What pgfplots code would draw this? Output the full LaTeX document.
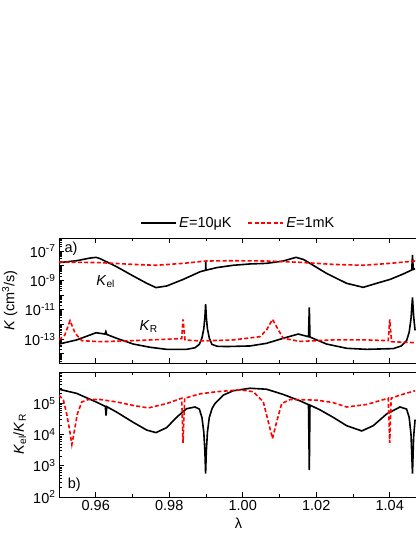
\documentclass[border=0pt]{standalone}
\usepackage{fontspec}
\setmainfont{Liberation Sans}
\usepackage{pgfplots}
\pgfplotsset{compat=1.18}
\newcommand{\fs}{\fontsize{14.5}{17}\selectfont}
\pgfplotsset{
  panel/.style={
    scale only axis, width=359pt, height=125pt,
    xmin=0.95, xmax=1.0477,
    xtick={0.96,0.98,1.00,1.02,1.04},
    minor xtick={0.95,0.97,0.99,1.01,1.03},
    ytick pos=left, xtick pos=both,
    tick align=inside,
    major tick length=5pt, minor tick length=3pt,
    every tick/.append style={black, line width=0.8pt},
    axis line style={line width=0.9pt},
    tick label style={font=\fs},
    label style={font=\fs},
    /pgf/number format/assume math mode=true,
  },
  kel/.style={black, line width=1.6pt},
  kr/.style={red, line width=1.6pt, dash pattern=on 4pt off 2.3pt},
}
\begin{document}
\begin{tikzpicture}
\useasboundingbox (0pt,0pt) rectangle (415pt,537pt);

% a) rate coefficients
\begin{axis}[ymode=log, panel,
  at={(59pt,174pt)}, anchor=south west,
  ymin=2.4e-15, ymax=7.7e-7,
  ytick={1e-14,1e-13,1e-12,1e-11,1e-10,1e-9,1e-8,1e-7},
  yticklabels={,10\textsuperscript{-13},,10\textsuperscript{-11},,10\textsuperscript{-9},,10\textsuperscript{-7}},
  minor ytick={3e-15,4e-15,5e-15,6e-15,7e-15,8e-15,9e-15,
    2e-14,3e-14,4e-14,5e-14,6e-14,7e-14,8e-14,9e-14,
    2e-13,3e-13,4e-13,5e-13,6e-13,7e-13,8e-13,9e-13,
    2e-12,3e-12,4e-12,5e-12,6e-12,7e-12,8e-12,9e-12,
    2e-11,3e-11,4e-11,5e-11,6e-11,7e-11,8e-11,9e-11,
    2e-10,3e-10,4e-10,5e-10,6e-10,7e-10,8e-10,9e-10,
    2e-9,3e-9,4e-9,5e-9,6e-9,7e-9,8e-9,9e-9,
    2e-8,3e-8,4e-8,5e-8,6e-8,7e-8,8e-8,9e-8,
    2e-7,3e-7,4e-7,5e-7,6e-7,7e-7},
  xticklabels={},
  ylabel={\textit{K} (cm\textsuperscript{3}/s)},
  legend style={at={(0.5,1)}, anchor=south, yshift=5pt, draw=none, fill=none,
    font=\fs, legend columns=2,
    /tikz/every even column/.append style={column sep=14pt}},
  legend image code/.code={\draw[#1] (0pt,0pt) -- (35pt,0pt);},
]
% K_el, E=10 muK
\addplot[kel] coordinates {
  (0.9500,1.62e-8) (0.9548,2.19e-8) (0.9584,3.31e-8) (0.9601,3.72e-8)
  (0.9612,3.02e-8) (0.9657,8.51e-9) (0.9702,2.0e-9) (0.9739,6.31e-10)
  (0.9764,3.24e-10) (0.9793,4.17e-10) (0.9838,1.17e-9) (0.9884,3.89e-9)
  (0.9899,4.9e-9) (0.98995,1.86e-8) (0.9900,4.95e-9) (0.9929,7.41e-9)
  (0.9974,1.07e-8) (1.0020,1.32e-8) (1.0065,1.45e-8) (1.0110,2.09e-8)
  (1.0145,3.72e-8) (1.0165,2.69e-8) (1.0183,1.45e-8) (1.0228,3.02e-9)
  (1.0283,6.31e-10) (1.0328,3.39e-10) (1.0364,6.31e-10) (1.0401,1.17e-9)
  (1.0437,2.75e-9) (1.0460,5.13e-9) (1.0462,5.37e-8) (1.0464,5.6e-9)
  (1.0469,6.3e-9)
};
\addlegendentry{\textit{E}=10μK}
% K_el, E=1 mK
\addplot[kr] coordinates {
  (0.9500,1.78e-8) (0.9612,1.62e-8) (0.9702,1.23e-8) (0.9764,1.07e-8)
  (0.9838,1.45e-8) (0.9900,2.09e-8) (0.9974,2.19e-8) (1.0065,2.09e-8)
  (1.0156,1.70e-8) (1.0246,1.23e-8) (1.0328,1.07e-8) (1.0401,1.45e-8)
  (1.0469,2.09e-8)
};
\addlegendentry{\textit{E}=1mK}
% K_R, E=10 muK
\addplot[kel, forget plot] coordinates {
  (0.9500,4.68e-14) (0.9548,8.91e-14) (0.9601,2.75e-13) (0.9625,2.24e-13)
  (0.96275,3.3e-13) (0.9630,2.1e-13) (0.9657,1.15e-13) (0.9702,4.68e-14)
  (0.9748,2.82e-14) (0.9793,2.04e-14) (0.9847,2.04e-14) (0.9870,2.6e-14)
  (0.9882,4.5e-14) (0.9889,1.2e-13) (0.9894,5e-13) (0.9897,3e-12)
  (0.9899,2.45e-11) (0.9901,3e-12) (0.9904,5e-13) (0.9909,1.2e-13)
  (0.9916,4.5e-14) (0.9930,3.3e-14) (0.9956,3.16e-14) (1.0020,3.47e-14)
  (1.0065,5.25e-14) (1.0110,1.15e-13) (1.0151,2.24e-13) (1.0179,1.48e-13)
  (1.01812,1.48e-11) (1.0183,1.4e-13) (1.0228,4.68e-14) (1.0283,2.4e-14)
  (1.0337,2.04e-14) (1.0410,2.29e-14) (1.0432,3.5e-14) (1.0446,8e-14)
  (1.0453,3e-13) (1.0458,2.5e-12) (1.0462,7.08e-11) (1.0465,4e-12)
  (1.0469,4e-13)
};
% K_R, E=1 mK
\addplot[kr, forget plot] coordinates {
  (0.9500,8.91e-14) (0.9516,1.95e-13) (0.9530,1.82e-12) (0.9544,2.51e-13)
  (0.9562,7.94e-14) (0.9612,6.76e-14) (0.9702,7.94e-14) (0.9834,1.1e-13)
  (0.98375,2.24e-12) (0.9843,8.91e-14) (0.9884,7.59e-14) (0.9974,8.91e-14)
  (1.0047,1.48e-13) (1.0065,4.27e-13) (1.0081,2.24e-12) (1.0097,4.27e-13)
  (1.0110,1.15e-13) (1.0156,7.08e-14) (1.0246,8.91e-14) (1.0337,8.91e-14)
  (1.0396,7.94e-14) (1.0400,2.24e-12) (1.0405,6.76e-14) (1.0469,5.75e-14)
};
\node[font=\fs, anchor=west] at (rel axis cs:0.006,0.91) {a)};
\node[font=\fs] at (rel axis cs:0.13,0.65) {\textit{K}\textsubscript{el}};
\node[font=\fs] at (rel axis cs:0.25,0.29) {\textit{K}\textsubscript{R}};
\end{axis}

% b) ratio
\begin{axis}[ymode=log, panel,
  at={(59pt,40pt)}, anchor=south west,
  ymin=1e2, ymax=1e6,
  ytick={1e2,1e3,1e4,1e5},
  yticklabels={10\textsuperscript{2},10\textsuperscript{3},10\textsuperscript{4},10\textsuperscript{5}},
  minor ytick={2e2,3e2,4e2,5e2,6e2,7e2,8e2,9e2,
    2e3,3e3,4e3,5e3,6e3,7e3,8e3,9e3,
    2e4,3e4,4e4,5e4,6e4,7e4,8e4,9e4,
    2e5,3e5,4e5,5e5,6e5,7e5,8e5,9e5},
  xticklabels={0.96,0.98,1.00,1.02,1.04},
  xlabel={λ},
  ylabel={\textit{K}\textsubscript{el}/\textit{K}\textsubscript{R}},
]
\addplot[kel] coordinates {
  (0.9500,2.81e5) (0.9548,2.07e5) (0.9601,1.10e5) (0.9626,7.94e4)
  (0.9628,4.07e4) (0.9630,7.76e4) (0.9657,5.2e4) (0.9702,2.45e4)
  (0.9739,1.38e4) (0.9764,1.15e4) (0.9793,1.66e4) (0.9820,3.55e4)
  (0.9847,6.68e4) (0.9870,7.59e4) (0.9882,6.5e4) (0.9889,3.5e4)
  (0.9894,1.2e4) (0.9897,3e3) (0.9899,562) (0.9901,3e3)
  (0.9904,1.2e4) (0.9909,3.5e4) (0.9917,7e4)
  (0.99245,9.77e4) (0.9947,1.82e5) (0.9974,2.51e5) (1.0020,3.02e5)
  (1.0065,2.81e5) (1.0110,1.92e5) (1.0156,1.19e5) (1.0179,9.04e4)
  (1.01812,721) (1.0183,8.71e4) (1.0210,6.17e4) (1.0246,3.55e4)
  (1.0283,1.91e4) (1.0324,1.30e4) (1.0355,1.91e4) (1.0392,4.57e4)
  (1.0428,7.59e4) (1.0446,6.5e4) (1.0453,3.5e4) (1.0458,1e4)
  (1.0462,562) (1.0465,8e3) (1.0469,3e4)
};
\addplot[kr] coordinates {
  (0.9500,1.82e5) (0.9512,1.26e5) (0.9521,4.57e4) (0.9530,1.15e4)
  (0.9535,4.79e3) (0.9541,1.15e4) (0.9550,4.57e4) (0.9562,1.10e5)
  (0.9580,1.32e5) (0.9612,1.32e5) (0.9657,1.10e5) (0.9702,8.51e4)
  (0.9743,7.08e4) (0.9793,9.77e4) (0.9834,1.45e5) (0.98375,5.37e3)
  (0.9842,1.45e5) (0.9884,2.0e5) (0.9929,2.34e5) (0.9993,2.69e5)
  (1.0029,2.34e5) (1.0056,1.10e5) (1.0070,2.45e4) (1.0081,7.41e3)
  (1.0092,2.45e4) (1.0106,9.77e4) (1.0129,1.32e5) (1.0201,1.26e5)
  (1.0246,1.05e5) (1.0283,7.59e4) (1.0337,9.12e4) (1.0396,1.45e5)
  (1.0400,5.37e3) (1.0404,1.45e5) (1.0428,1.82e5) (1.0469,2.51e5)
};
\node[font=\fs, anchor=west] at (rel axis cs:0.015,0.1) {b)};
\end{axis}
\end{tikzpicture}
\end{document}
